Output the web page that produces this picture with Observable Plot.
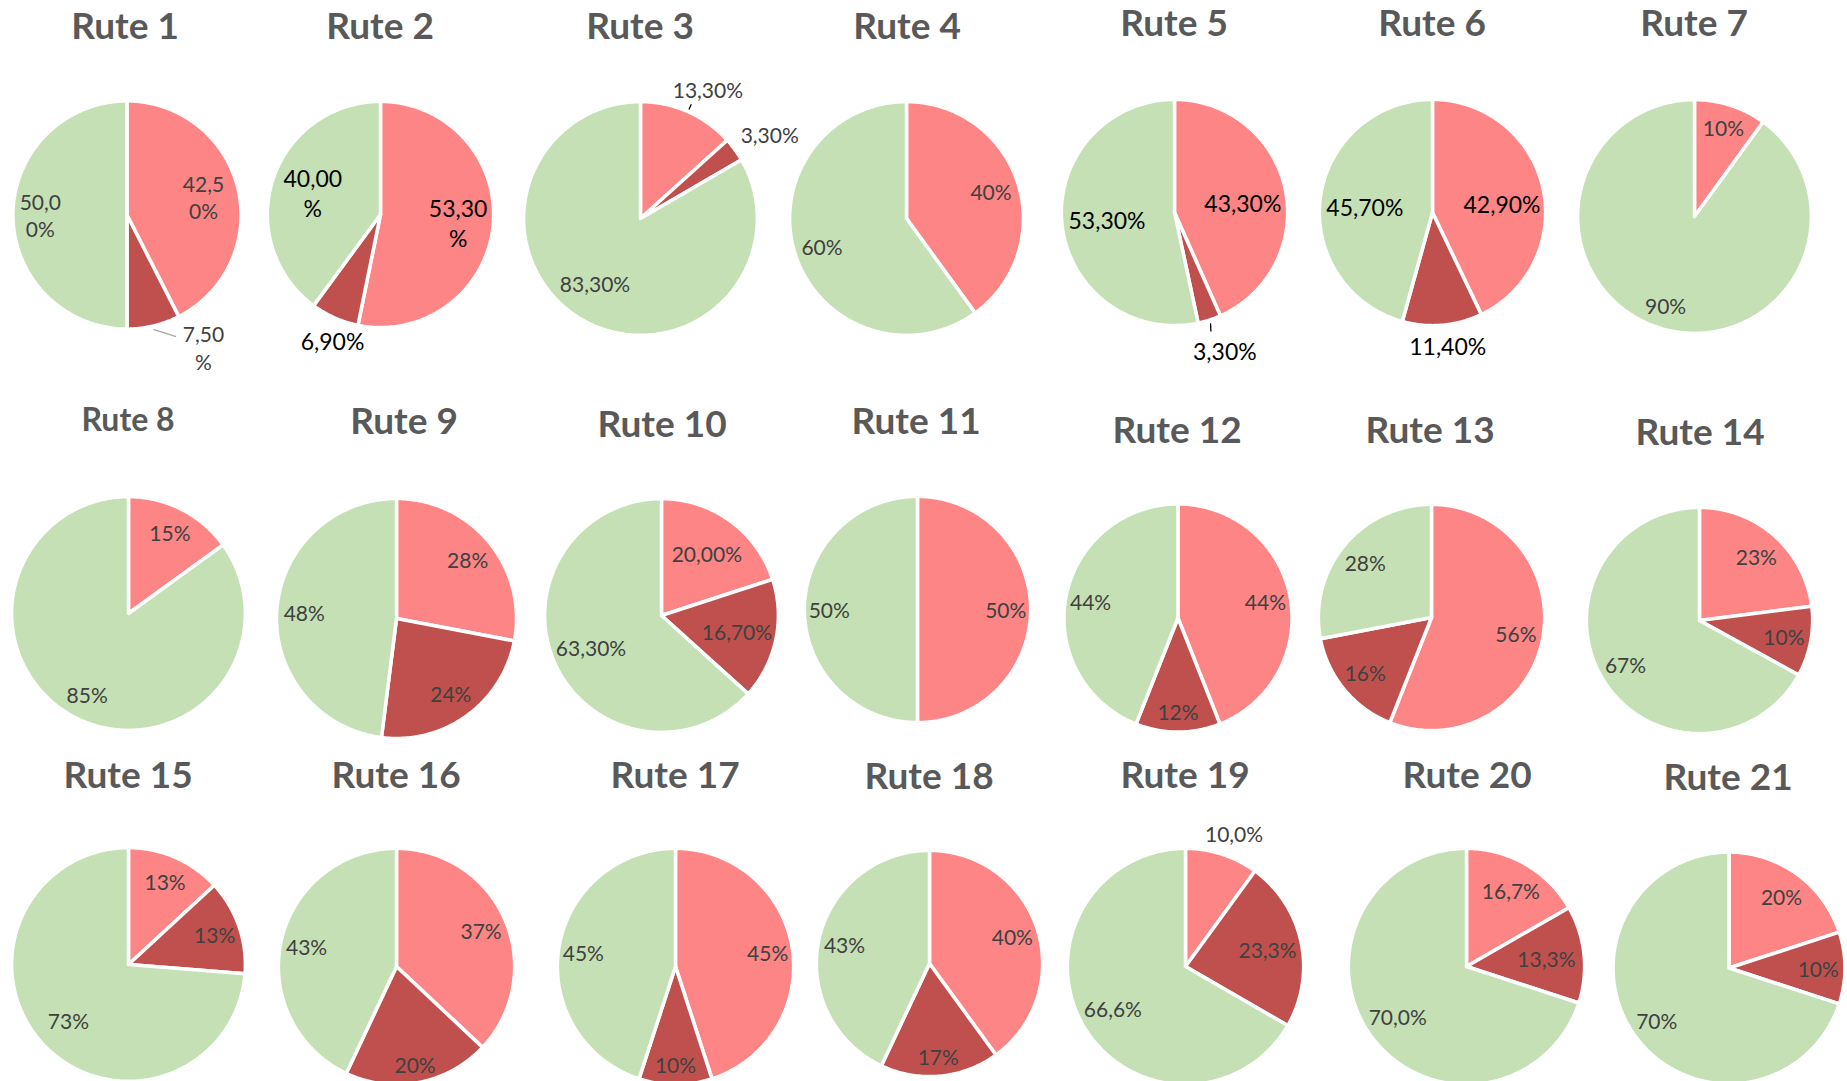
<!DOCTYPE html>
<html><head><meta charset="utf-8">
<script src="https://cdn.jsdelivr.net/npm/d3@7"></script>
<script src="https://cdn.jsdelivr.net/npm/@observablehq/plot@0.6"></script>
<style>
html,body{margin:0;padding:0;background:#fff;}
#root{position:relative;width:1847px;height:1081px;overflow:hidden;font-family:Lato,"Open Sans",sans-serif;}
.title{position:absolute;transform:translate(-50%,-50%);font-weight:700;color:#595959;white-space:nowrap;line-height:1;font-family:Lato,sans-serif;}
.pie{position:absolute;}
</style></head><body><div id="root"></div>
<script>
// ---- data ----
const routes = ["Rute 1","Rute 2","Rute 3","Rute 4","Rute 5","Rute 6","Rute 7","Rute 8","Rute 9","Rute 10","Rute 11","Rute 12","Rute 13","Rute 14","Rute 15","Rute 16","Rute 17","Rute 18","Rute 19","Rute 20","Rute 21"];
const sliceKeys = ["A","B","C"];
const valA = [42.5,53.3,13.3,40,43.3,42.9,10,15,28,20,50,44,56,23,13,37,45,40,10,16.7,20];
const valB = [7.5,6.9,3.3,0,3.3,11.4,0,0,24,16.7,0,12,16,10,13,20,10,17,23.3,13.3,10];
const valC = [50,40,83.3,60,53.3,45.7,90,85,48,63.3,50,44,28,67,73,43,45,43,66.6,70,70];
const labA = ["42,5\n0%","53,30\n%","13,30%","40%","43,30%","42,90%","10%","15%","28%","20,00%","50%","44%","56%","23%","13%","37%","45%","40%","10,0%","16,7%","20%"];
const labB = ["7,50\n%","6,90%","3,30%","","3,30%","11,40%","","","24%","16,70%","","12%","16%","10%","13%","20%","10%","17%","23,3%","13,3%","10%"];
const labC = ["50,0\n0%","40,00\n%","83,30%","60%","53,30%","45,70%","90%","85%","48%","63,30%","50%","44%","28%","67%","73%","43%","45%","43%","66,6%","70,0%","70%"];

// ---- layout & style (not data) ----
const colors = ["#FD8585","#C0504D","#C5E0B4"];
const layout = [
 {cx:126,cy:214,r:114,tx:125,ty:24},
 {cx:380,cy:214,r:113,tx:380,ty:24},
 {cx:640,cy:218,r:117,tx:640,ty:24},
 {cx:906,cy:218,r:117,tx:907,ty:24},
 {cx:1174,cy:212,r:113,tx:1174,ty:21},
 {cx:1432,cy:212,r:113,tx:1432,ty:21},
 {cx:1694,cy:216,r:117,tx:1694,ty:21},
 {cx:128,cy:613,r:117,tx:128,ty:419,ts:32},
 {cx:396,cy:618,r:120,tx:404,ty:419},
 {cx:661,cy:615,r:117,tx:662,ty:422},
 {cx:917,cy:609,r:113,tx:916,ty:419},
 {cx:1177,cy:617,r:114,tx:1177,ty:428},
 {cx:1431,cy:617,r:113,tx:1430,ty:428},
 {cx:1699,cy:620,r:113,tx:1700,ty:430},
 {cx:128,cy:964,r:117,tx:128,ty:773},
 {cx:396,cy:966,r:118,tx:396,ty:773},
 {cx:675,cy:966,r:118,tx:675,ty:773},
 {cx:929,cy:963,r:113,tx:929,ty:774},
 {cx:1185,cy:966,r:118,tx:1185,ty:773},
 {cx:1466,cy:966,r:118,tx:1467,ty:773},
 {cx:1728,cy:967,r:116,tx:1728,ty:775}
];
const labelK = [0.72,0.66,0.68,0.76,0.61,0.61,0.8,0.78,0.77,0.66,0.78,0.78,0.76,0.76,0.78,0.78,0.79,0.77,0.71,0.72,0.77];
const labelOverride = {
  "0-0":{k:0.69}, "0-2":{k:0.76}, "0-1":{k:1.34, da:-16.5},
  "1-0":{k:0.69}, "1-2":{k:0.63}, "1-1":{k:1.19, da:-3},
  "2-0":{k:1.25, da:3.5}, "2-1":{k:1.32, da:3}, "2-2":{k:0.68, da:5},
  "4-0":{k:0.61, da:4}, "4-2":{k:0.6}, "4-1":{k:1.3, da:-2},
  "5-0":{k:0.62, da:5}, "5-2":{k:0.6, da:-3}, "5-1":{k:1.18, da:-1.5},
  "11-1":{k:0.82}, "14-2":{k:0.7}, "15-1":{k:0.84}, "16-1":{k:0.83}, "17-1":{k:0.82},
  "18-0":{k:1.2, da:2}, "19-0":{k:0.75}, "19-1":{k:0.68}
};
// leader lines: polar points relative to slice mid-angle
const leaders = [
  {i:0, j:1, p:[[1.03,0.5],[1.15,-8.5]], color:"#A6A6A6"},
  {i:2, j:0, p:[[1.02,0],[1.07,0]], color:"#000"},
  {i:4, j:1, p:[[1.03,0],[1.1,1]], color:"#000"}
];
const boldIdx = new Set([1,4,5]);

const rad = d => d*Math.PI/180;
const root = document.getElementById("root");

routes.forEach((name, i) => {
  const L = layout[i];
  const vals = [valA[i], valB[i], valC[i]];
  const labs = [labA[i], labB[i], labC[i]];
  const total = d3.sum(vals);
  const pts = [], texts = [], mids = [];
  let acc = 0;
  vals.forEach((v, j) => {
    const a0 = acc/total*360, a1 = (acc+v)/total*360;
    acc += v;
    mids[j] = (a0+a1)/2;
    if (v <= 0) return;
    const key = sliceKeys[j];
    pts.push({slice:key, x:0, y:0});
    const n = Math.max(2, Math.ceil((a1-a0)/1));
    for (let s = 0; s <= n; s++) {
      const a = rad(a0 + (a1-a0)*s/n);
      pts.push({slice:key, x:Math.sin(a), y:Math.cos(a)});
    }
    pts.push({slice:key, x:0, y:0});
    const o = labelOverride[i+"-"+j] || {};
    const k = o.k ?? labelK[i];
    const am = rad(mids[j] + (o.da || 0));
    if (labs[j]) texts.push({text:labs[j], x:k*Math.sin(am), y:k*Math.cos(am)});
  });
  const links = leaders.filter(l => l.i === i).map(l => {
    const m = mids[l.j];
    const [p0, p1] = l.p;
    return {x1:p0[0]*Math.sin(rad(m+p0[1])), y1:p0[0]*Math.cos(rad(m+p0[1])),
            x2:p1[0]*Math.sin(rad(m+p1[1])), y2:p1[0]*Math.cos(rad(m+p1[1])), color:l.color};
  });
  const ext = 1.6;
  const W = Math.round(2*L.r*ext), H = W;
  const bold = boldIdx.has(i);
  const chart = Plot.plot({
    width: W, height: H, margin: 0,
    x: {domain: [-ext, ext], axis: null},
    y: {domain: [-ext, ext], axis: null},
    color: {domain: sliceKeys, range: colors},
    style: {fontFamily: "Lato, sans-serif", background: "transparent", overflow: "visible"},
    marks: [
      Plot.line(pts, {x:"x", y:"y", z:"slice", fill:"slice", stroke:"white", strokeWidth:3.5, strokeLinejoin:"round", curve:"linear"}),
      Plot.link(links, {x1:"x1", y1:"y1", x2:"x2", y2:"y2", stroke:d => d.color, strokeWidth:1.3}),
      Plot.text(texts, {x:"x", y:"y", text:"text", fill: bold ? "#000000" : "#404040", fontSize: bold ? 23 : 21, lineHeight: 1.3})
    ]
  });
  chart.classList.add("pie");
  chart.style.left = (L.cx - W/2) + "px";
  chart.style.top = (L.cy - H/2) + "px";
  chart.style.width = W + "px";
  chart.style.height = H + "px";
  chart.style.maxWidth = "none";
  root.appendChild(chart);
  const t = document.createElement("div");
  t.className = "title";
  t.textContent = name;
  t.style.left = L.tx + "px";
  t.style.top = L.ty + "px";
  t.style.fontSize = (L.ts || 37) + "px";
  root.appendChild(t);
});
</script></body></html>
